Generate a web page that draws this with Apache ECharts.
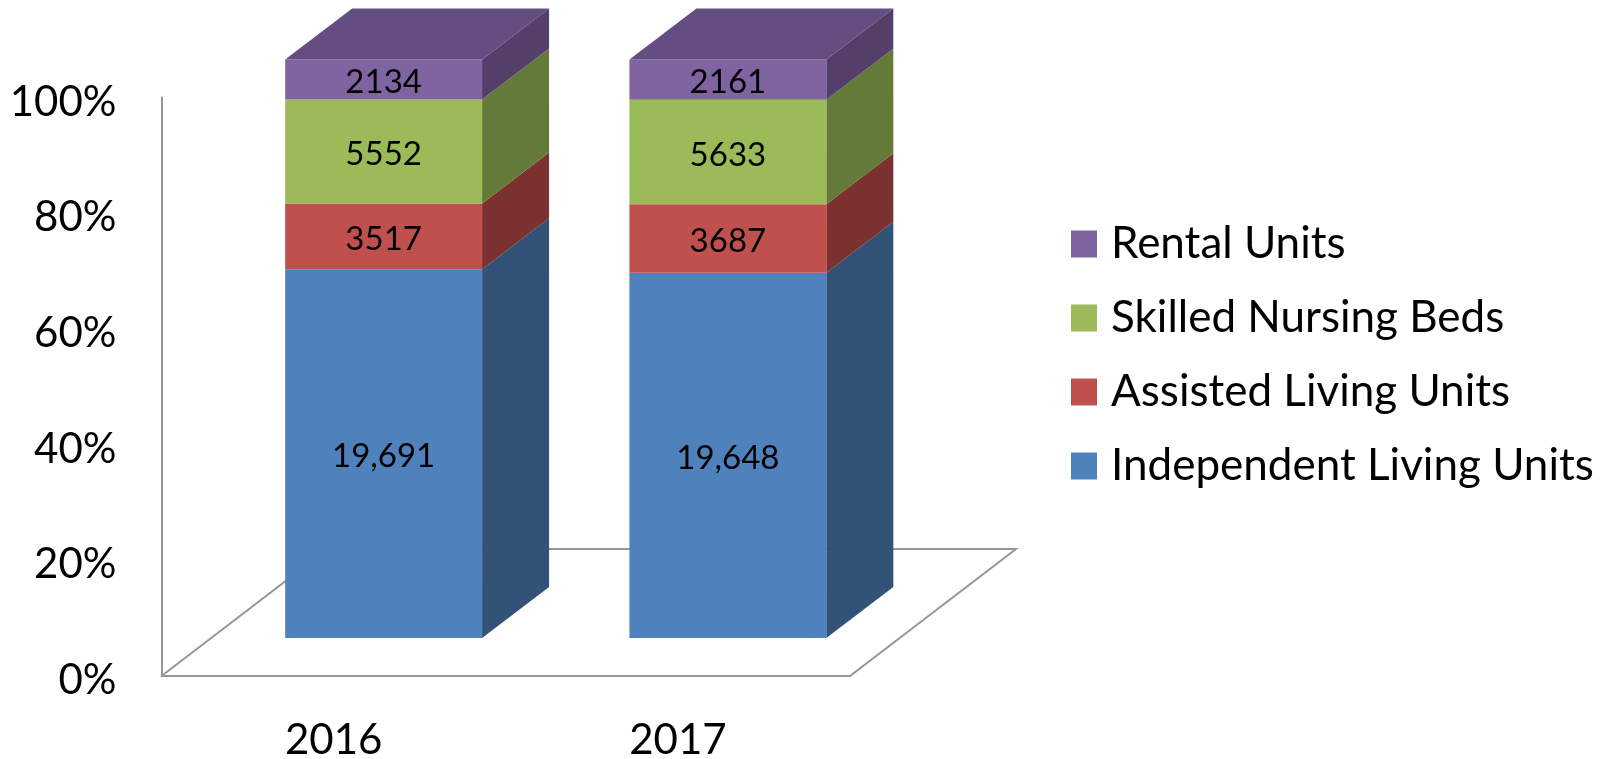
<!DOCTYPE html>
<html>
<head>
<meta charset="utf-8">
<title>Units by year</title>
<script src="https://cdn.jsdelivr.net/npm/echarts@6/dist/echarts.min.js"></script>
<style>
  html, body { margin: 0; padding: 0; background: #fff; }
  #main { width: 1613px; height: 759px; }
</style>
</head>
<body>
<div id="main"></div>
<script>
const years = ["2016", "2017"];
const independentLiving = [19691, 19648];
const assistedLiving = [3517, 3687];
const skilledNursing = [5552, 5633];
const rentalUnits = [2134, 2161];
const percentTicks = [0, 20, 40, 60, 80, 100];

// bottom to top, the way the columns stack
const layers = [
  { name: "Independent Living Units", values: independentLiving, front: "#4f81bd", side: "#325277" },
  { name: "Assisted Living Units", values: assistedLiving, front: "#c0504d", side: "#7b3130" },
  { name: "Skilled Nursing Beds", values: skilledNursing, front: "#9bbb59", side: "#647a38" },
  { name: "Rental Units", values: rentalUnits, front: "#8064a2", side: "#533f6a", top: "#644d80" }
];

const FONT = "Lato, 'Open Sans', sans-serif";
// fake 3D: how far the columns sit into the floor, and how deep they are
const BAR_SHIFT_X = 50, BAR_SHIFT_Y = -38, BAR_RATIO = 0.572;
const DEPTH_X = 67, DEPTH_Y = -51;
const FLOOR_X = 166, FLOOR_Y = -127;

function totals(i) {
  return layers.reduce(function(sum, l) { return sum + l.values[i]; }, 0);
}

function formatCount(v) {
  return v >= 10000 ? String(v).replace(/(\d)(\d{3})$/, "$1,$2") : String(v);
}

function layerData(index) {
  return years.map(function(y, i) {
    let below = 0;
    for (let k = 0; k < index; k++) below += layers[k].values[i];
    const t = totals(i);
    const v = layers[index].values[i];
    return [i, (below / t) * 100, ((below + v) / t) * 100, v];
  });
}

function polygon(points, color) {
  return { type: "polygon", shape: { points: points }, style: { fill: color } };
}

function renderLayer(layer) {
  return function(params, api) {
    const base = api.coord([api.value(0), api.value(1)]);
    const upper = api.coord([api.value(0), api.value(2)]);
    const w = api.size([1, 0])[0] * BAR_RATIO;
    const l = base[0] + BAR_SHIFT_X - w / 2;
    const r = l + w;
    const b = base[1] + BAR_SHIFT_Y;
    const t = upper[1] + BAR_SHIFT_Y;
    const children = [
      polygon([[r, b], [r + DEPTH_X, b + DEPTH_Y], [r + DEPTH_X, t + DEPTH_Y], [r, t]], layer.side),
      polygon([[l, b], [r, b], [r, t], [l, t]], layer.front)
    ];
    if (layer.top) {
      children.push(polygon([[l, t], [r, t], [r + DEPTH_X, t + DEPTH_Y], [l + DEPTH_X, t + DEPTH_Y]], layer.top));
    }
    children.push({
      type: "text",
      style: {
        text: formatCount(api.value(3)),
        x: (l + r) / 2,
        y: (b + t) / 2 + 3,
        align: "center",
        verticalAlign: "middle",
        fill: "#000",
        fontFamily: FONT,
        fontSize: 33
      }
    });
    return { type: "group", children: children };
  };
}

function renderFloor(params) {
  const c = params.coordSys;
  const x0 = c.x, x1 = c.x + c.width, y0 = c.y + c.height;
  return {
    type: "polyline",
    shape: {
      points: [[x0, y0], [x0 + FLOOR_X, y0 + FLOOR_Y], [x1 + FLOOR_X, y0 + FLOOR_Y], [x1, y0]]
    },
    style: { stroke: "#969696", lineWidth: 2, fill: null }
  };
}

const chart = echarts.init(document.getElementById("main"));

const series = [
  {
    type: "custom",
    name: "floor",
    silent: true,
    data: [[0, 0]],
    renderItem: renderFloor,
    z: 1
  }
].concat(
  layers.map(function(layer, index) {
    return {
      type: "custom",
      name: layer.name,
      data: layerData(index),
      encode: { x: 0, y: [1, 2] },
      renderItem: renderLayer(layer),
      itemStyle: { color: layer.front },
      z: 2
    };
  })
);

chart.setOption({
  animation: false,
  backgroundColor: "#fff",
  grid: { left: 161.5, right: 763, top: 97.5, bottom: 83, outerBoundsMode: "none" },
  legend: {
    orient: "vertical",
    left: 1066,
    top: 214,
    data: layers.map(function(l) { return l.name; }).reverse(),
    icon: "rect",
    itemWidth: 26,
    itemHeight: 27,
    itemGap: 24,
    selectedMode: false,
    textStyle: {
      color: "#000",
      fontFamily: FONT,
      fontSize: 44,
      lineHeight: 50,
      padding: [0, 0, 0, 9]
    }
  },
  xAxis: {
    type: "category",
    data: years,
    axisTick: { show: false },
    axisLine: { lineStyle: { color: "#969696", width: 2 } },
    axisLabel: { color: "#000", fontFamily: FONT, fontSize: 42, margin: 43 }
  },
  yAxis: {
    type: "value",
    min: percentTicks[0],
    max: percentTicks[percentTicks.length - 1],
    interval: percentTicks[1] - percentTicks[0],
    splitLine: { show: false },
    axisTick: { show: false },
    axisLine: { show: true, lineStyle: { color: "#969696", width: 2 } },
    axisLabel: {
      margin: 45,
      formatter: "{v|{value}%}",
      rich: { v: { color: "#000", fontFamily: FONT, fontSize: 42, padding: [9, 0, 0, 0] } }
    }
  },
  series: series
});
</script>
</body>
</html>
